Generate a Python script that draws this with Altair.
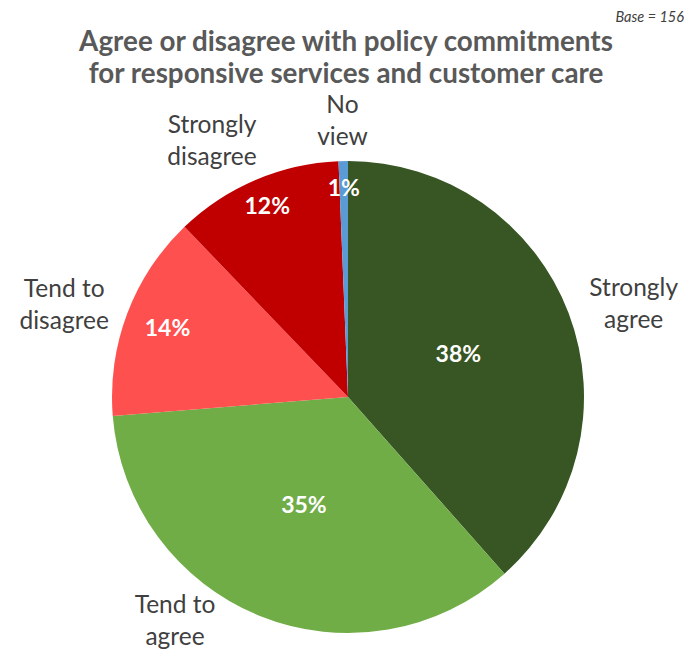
import altair as alt
import pandas as pd

# ---- data ----
categories = ["Strongly agree", "Tend to agree", "Tend to disagree", "Strongly disagree", "No view"]
display_labels = ["Strongly\nagree", "Tend to\nagree", "Tend to\ndisagree", "Strongly\ndisagree", "No\nview"]
counts = [60, 55, 22, 18, 1]
colors = ["#375623", "#70AD47", "#FF5050", "#C00000", "#5B9BD5"]
title_lines = ["Agree or disagree with policy commitments", "for responsive services and customer care"]
base_text = "Base = 156"

df = pd.DataFrame({
    "category": categories,
    "label": display_labels,
    "count": counts,
    "idx": list(range(len(categories))),
})

# ---- layout ----
W, H = 689, 651
CX, CY, R = 348, 397, 236
FONT = "Lato"

pct_radius = {"Strongly agree": 118, "Tend to agree": 118, "Tend to disagree": 193,
              "Strongly disagree": 206, "No view": 208}
lab_radius = {"Strongly agree": 300, "Tend to agree": 284, "Tend to disagree": 298,
              "Strongly disagree": 289, "No view": 275}
lab_adj = {"Strongly agree": 3, "Tend to agree": 15.6, "Tend to disagree": -3,
           "Strongly disagree": -5, "No view": 0}


def mapping_expr(d, default=0):
    expr = str(default)
    for k, v in d.items():
        expr = f"datum.category === '{k}' ? {v} : ({expr})"
    return expr


base = (
    alt.Chart(df)
    .transform_joinaggregate(total="sum(count)")
    .transform_window(cum="sum(count)", sort=[alt.SortField("idx")], frame=[None, 0])
    .transform_calculate(
        start="(datum.cum - datum.count) / datum.total * 2 * PI",
        end="datum.cum / datum.total * 2 * PI",
        mid="(datum.cum - datum.count / 2) / datum.total * 2 * PI",
        pct="datum.count / datum.total",
        prad=mapping_expr(pct_radius),
        lrad=mapping_expr(lab_radius),
        lang="(datum.cum - datum.count / 2) / datum.total * 2 * PI + (" + mapping_expr(lab_adj) + ") * PI / 180",
    )
)

arcs = base.mark_arc(outerRadius=R).encode(
    x=alt.value(CX),
    y=alt.value(CY),
    theta=alt.Theta("start:Q", scale=None),
    theta2="end:Q",
    color=alt.Color("category:N", scale=alt.Scale(domain=categories, range=colors), legend=None),
)

pct_text = base.mark_text(font=FONT, fontSize=23, fontWeight="bold", color="white",
                          align="center", baseline="middle").encode(
    x=alt.value(CX),
    y=alt.value(CY),
    theta=alt.Theta("mid:Q", scale=None),
    radius=alt.Radius("prad:Q", scale=None),
    text=alt.Text("pct:Q", format=".0%"),
)

cat_text = base.mark_text(font=FONT, fontSize=24.5, color="#404040", lineBreak="\n",
                          lineHeight=32, align="center", baseline="middle", dy=-16).encode(
    x=alt.value(CX),
    y=alt.value(CY),
    theta=alt.Theta("lang:Q", scale=None),
    radius=alt.Radius("lrad:Q", scale=None),
    text="label:N",
)

title_df = pd.DataFrame({"t": ["\n".join(title_lines)]})
title = alt.Chart(title_df).mark_text(font=FONT, fontSize=27.8, fontWeight="bold", color="#595959",
                                      lineBreak="\n", lineHeight=32, align="center",
                                      baseline="middle").encode(
    x=alt.value(346), y=alt.value(43), text="t:N")

base_df = pd.DataFrame({"t": [base_text]})
base_lbl = alt.Chart(base_df).mark_text(font=FONT, fontSize=14.5, fontStyle="italic", color="#404040",
                                        align="right", baseline="middle").encode(
    x=alt.value(684), y=alt.value(18), text="t:N")

chart = alt.layer(arcs, pct_text, cat_text, title, base_lbl).properties(
    width=W, height=H, autosize="none", padding=0
).configure_view(stroke=None)

chart.save("out.html", embed_options={"renderer": "svg", "actions": False})
